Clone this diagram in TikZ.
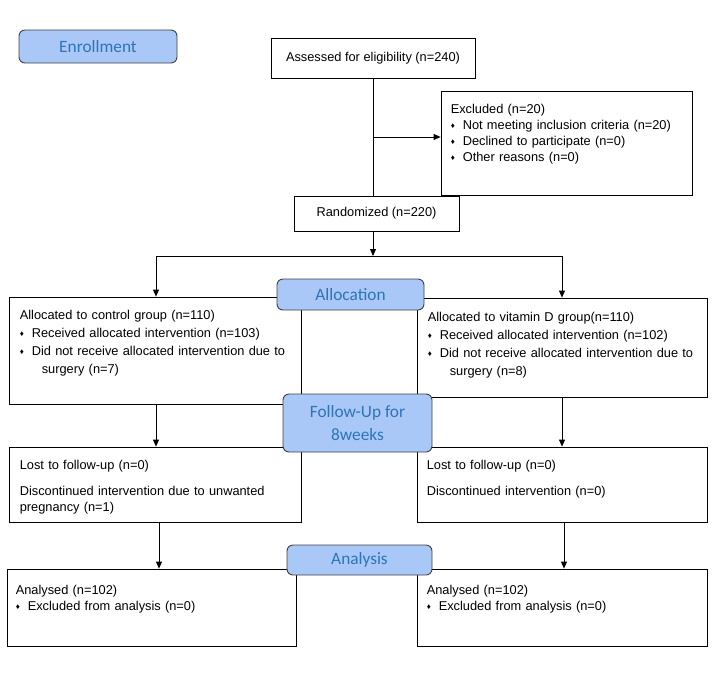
\documentclass[tikz,border=0pt]{standalone}
\usepackage{fontspec}
\setmainfont{Liberation Sans}
\newfontfamily\stagefont{Carlito}
\usetikzlibrary{arrows.meta}

\definecolor{stagefill}{RGB}{169,199,247}
\definecolor{stagetext}{RGB}{46,117,182}
\definecolor{stageline}{RGB}{64,64,64}

\newcommand{\dia}{{\fontsize{8}{8}\selectfont\raisebox{1pt}{♦}}}
\newcommand{\itm}[1]{\par\hangindent=22pt\hangafter=1\noindent\makebox[12pt][l]{\dia}#1\par}

\begin{document}
\begin{tikzpicture}[x=1pt, y=-1pt, >={Triangle[length=7pt,width=6pt]},
  plainbox/.style={draw, line width=0.8pt, inner sep=0pt},
  boxfont/.style={font=\fontsize{12.8}{16}\selectfont},
  boxtext/.style={anchor=north west, inner sep=0pt, align=left, boxfont},
  stage/.style={draw=stageline, line width=0.9pt, fill=stagefill, rounded corners=6pt,
    text=stagetext, font=\stagefont\fontsize{17.3}{23}\selectfont, align=center, inner sep=0pt},
  conn/.style={line width=0.8pt}]
\useasboundingbox (0,0) rectangle (714,675);

% enrollment
\node[plainbox, boxfont, minimum width=204pt, minimum height=40pt] (assess) at (373,58) {Assessed for eligibility (n=240)};
\node[plainbox, minimum width=251pt, minimum height=104pt] (excl) at (566.5,143) {};
\node[boxtext, text width=235pt] (excltxt) at ([xshift=10pt,yshift=-13pt]excl.north west)
  {Excluded (n=20)\itm{Not meeting inclusion criteria (n=20)}\itm{Declined to participate (n=0)}\itm{Other reasons (n=0)}};
\node[plainbox, boxfont, minimum width=165pt, minimum height=35pt] (rand) at (376.5,213.5) {Randomized (n=220)};

% allocation
\node[plainbox, minimum width=292pt, minimum height=107pt] (lalloc) at (155,350.5) {};
\node[boxtext, text width=272pt, font=\fontsize{12.8}{18}\selectfont] (lalloctxt) at ([xshift=11pt,yshift=-13pt]lalloc.north west)
  {Allocated to control group (n=110)\itm{Received allocated intervention (n=103)}\itm{Did not receive allocated intervention due to\newline surgery (n=7)}};
\node[plainbox, minimum width=290pt, minimum height=99pt] (ralloc) at (562,347.5) {};
\node[boxtext, text width=270pt, font=\fontsize{12.8}{18}\selectfont] (ralloctxt) at ([xshift=11pt,yshift=-14pt]ralloc.north west)
  {Allocated to vitamin D group(n=110)\itm{Received allocated intervention (n=102)}\itm{Did not receive allocated intervention due to\newline surgery (n=8)}};

% follow-up
\node[plainbox, minimum width=292pt, minimum height=75pt] (lfol) at (155,484.5) {};
\node[boxtext, text width=272pt] (lfoltxt) at ([xshift=11pt,yshift=-13pt]lfol.north west)
  {Lost to follow-up (n=0)\\[10pt]Discontinued intervention due to unwanted\\pregnancy (n=1)};
\node[plainbox, minimum width=290pt, minimum height=75pt] (rfol) at (562,484.5) {};
\node[boxtext, text width=270pt] (rfoltxt) at ([xshift=10pt,yshift=-13pt]rfol.north west)
  {Lost to follow-up (n=0)\\[10pt]Discontinued intervention (n=0)};

% analysis
\node[plainbox, minimum width=289pt, minimum height=77pt] (lana) at (151.5,607.5) {};
\node[boxtext, text width=270pt] (lanatxt) at ([xshift=9pt,yshift=-16pt]lana.north west)
  {Analysed (n=102)\itm{Excluded from analysis (n=0)}};
\node[plainbox, minimum width=290pt, minimum height=77pt] (rana) at (562,607.5) {};
\node[boxtext, text width=270pt] (ranatxt) at ([xshift=10pt,yshift=-16pt]rana.north west)
  {Analysed (n=102)\itm{Excluded from analysis (n=0)}};

% connectors
\coordinate (exclin) at (374,137);
\coordinate (splitL) at (156,256);
\coordinate (splitR) at (562,256);
\draw[conn] (assess.south) -- (assess.south |- rand.north);
\draw[conn,->] (exclin) -- (exclin -| excl.west);
\draw[conn,->] (assess.south |- rand.south) -- (assess.south |- splitL);
\draw[conn] (splitL) -- (splitR);
\draw[conn,->] (splitL) -- (splitL |- lalloc.north);
\draw[conn,->] (splitR) -- (splitR |- ralloc.north);
\draw[conn,->] ([xshift=1pt]lalloc.south) -- ([xshift=1pt]lalloc.south |- lfol.north);
\draw[conn,->] (ralloc.south) -- (rfol.north);
\draw[conn,->] ([xshift=4pt]lfol.south) -- ([xshift=4pt]lfol.south |- lana.north);
\draw[conn,->] ([xshift=2pt]rfol.south) -- ([xshift=2pt]rfol.south |- rana.north);

% stage labels
\node[stage, minimum width=158pt, minimum height=33pt] (enroll) at (98,46.5) {Enrollment};
\node[stage, minimum width=147pt, minimum height=31pt] (alloc) at (350.5,294.5) {Allocation};
\node[stage, minimum width=149pt, minimum height=58pt] (follow) at (357.5,423) {Follow-Up for\\8weeks};
\node[stage, minimum width=145pt, minimum height=30pt] (analysis) at (359.5,560) {Analysis};
\end{tikzpicture}
\end{document}
